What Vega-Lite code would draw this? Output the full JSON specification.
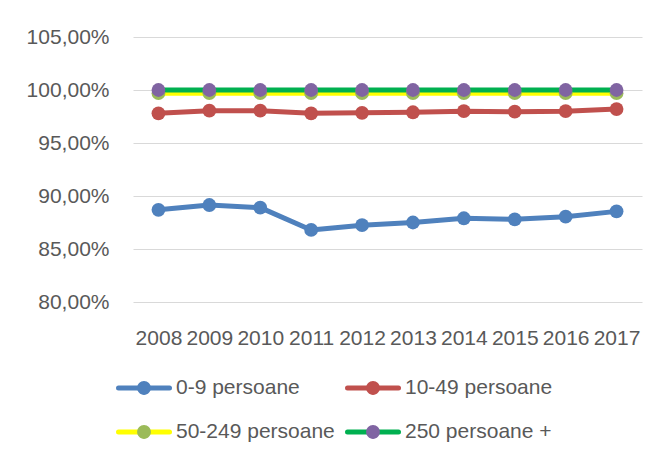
{
  "$schema": "https://vega.github.io/schema/vega-lite/v6.json",
  "width": 509,
  "height": 265,
  "autosize": "none",
  "padding": {"left": 133, "top": 37, "right": 20, "bottom": 159},
  "background": "white",
  "config": {"view": {"stroke": null}, "font": "Liberation Sans"},
  "data": {
    "values": [
      {"year": "2008", "series": "0-9 persoane", "value": 88.7},
      {"year": "2008", "series": "10-49 persoane", "value": 97.8},
      {"year": "2008", "series": "50-249 persoane", "value": 99.7},
      {"year": "2008", "series": "250 persoane +", "value": 100},
      {"year": "2009", "series": "0-9 persoane", "value": 89.15},
      {"year": "2009", "series": "10-49 persoane", "value": 98.05},
      {"year": "2009", "series": "50-249 persoane", "value": 99.7},
      {"year": "2009", "series": "250 persoane +", "value": 100},
      {"year": "2010", "series": "0-9 persoane", "value": 88.9},
      {"year": "2010", "series": "10-49 persoane", "value": 98.05},
      {"year": "2010", "series": "50-249 persoane", "value": 99.7},
      {"year": "2010", "series": "250 persoane +", "value": 100},
      {"year": "2011", "series": "0-9 persoane", "value": 86.8},
      {"year": "2011", "series": "10-49 persoane", "value": 97.8},
      {"year": "2011", "series": "50-249 persoane", "value": 99.7},
      {"year": "2011", "series": "250 persoane +", "value": 100},
      {"year": "2012", "series": "0-9 persoane", "value": 87.25},
      {"year": "2012", "series": "10-49 persoane", "value": 97.85},
      {"year": "2012", "series": "50-249 persoane", "value": 99.7},
      {"year": "2012", "series": "250 persoane +", "value": 100},
      {"year": "2013", "series": "0-9 persoane", "value": 87.5},
      {"year": "2013", "series": "10-49 persoane", "value": 97.9},
      {"year": "2013", "series": "50-249 persoane", "value": 99.7},
      {"year": "2013", "series": "250 persoane +", "value": 100},
      {"year": "2014", "series": "0-9 persoane", "value": 87.9},
      {"year": "2014", "series": "10-49 persoane", "value": 98.0},
      {"year": "2014", "series": "50-249 persoane", "value": 99.7},
      {"year": "2014", "series": "250 persoane +", "value": 100},
      {"year": "2015", "series": "0-9 persoane", "value": 87.8},
      {"year": "2015", "series": "10-49 persoane", "value": 97.95},
      {"year": "2015", "series": "50-249 persoane", "value": 99.7},
      {"year": "2015", "series": "250 persoane +", "value": 100},
      {"year": "2016", "series": "0-9 persoane", "value": 88.05},
      {"year": "2016", "series": "10-49 persoane", "value": 98.0},
      {"year": "2016", "series": "50-249 persoane", "value": 99.7},
      {"year": "2016", "series": "250 persoane +", "value": 100},
      {"year": "2017", "series": "0-9 persoane", "value": 88.55},
      {"year": "2017", "series": "10-49 persoane", "value": 98.2},
      {"year": "2017", "series": "50-249 persoane", "value": 99.7},
      {"year": "2017", "series": "250 persoane +", "value": 100}
    ]
  },
  "encoding": {
    "x": {
      "field": "year",
      "type": "ordinal",
      "scale": {"padding": 0.5},
      "axis": {
        "title": null,
        "labelAngle": 0,
        "ticks": false,
        "domain": false,
        "grid": false,
        "labelPadding": 25,
        "labelFont": "Liberation Sans",
        "labelFontSize": 21,
        "labelColor": "#595959",
        "labelOverlap": false
      }
    },
    "y": {
      "field": "value",
      "type": "quantitative",
      "scale": {"domain": [80, 105], "nice": false, "zero": false},
      "axis": {
        "title": null,
        "ticks": false,
        "domain": false,
        "grid": true,
        "gridColor": "#d9d9d9",
        "gridWidth": 1,
        "values": [80, 85, 90, 95, 100, 105],
        "labelExpr": "replace(format(datum.value, '.2f'), '.', ',') + '%'",
        "labelPadding": 24,
        "labelFont": "Liberation Sans",
        "labelFontSize": 21,
        "labelColor": "#595959"
      }
    }
  },
  "layer": [
    {
      "mark": {"type": "line", "strokeWidth": 5, "strokeJoin": "round", "strokeCap": "round"},
      "encoding": {
        "stroke": {
          "field": "series",
          "type": "nominal",
          "scale": {
            "domain": ["0-9 persoane", "10-49 persoane", "50-249 persoane", "250 persoane +"],
            "range": ["#4F81BD", "#C0504D", "#FFFF00", "#00B050"]
          },
          "legend": {
            "orient": "none",
            "direction": "horizontal",
            "legendX": -17,
            "legendY": 339,
            "columns": 2,
            "title": null,
            "padding": 0,
            "symbolType": "M-1,0L1,0",
            "symbolSize": 2601,
            "symbolStrokeWidth": 5,
            "symbolOffset": 0,
            "clipHeight": 24,
            "rowPadding": 20,
            "columnPadding": 10,
            "labelOffset": 4,
            "labelFont": "Liberation Sans",
            "labelFontSize": 21,
            "labelColor": "#595959",
            "zindex": 0,
            "encode": {"symbols": {"update": {"strokeCap": {"value": "round"}}}}
          }
        }
      }
    },
    {
      "mark": {"type": "point", "filled": true, "size": 190, "opacity": 1},
      "encoding": {
        "fill": {
          "field": "series",
          "type": "nominal",
          "sort": ["0-9 persoane", "10-49 persoane", "50-249 persoane", "250 persoane +"],
          "scale": {"range": ["#4F81BD", "#C0504D", "#9BBB59", "#8064A2"]},
          "legend": {
            "orient": "none",
            "direction": "horizontal",
            "legendX": -17,
            "legendY": 339,
            "columns": 2,
            "title": null,
            "padding": 0,
            "symbolType": "M0.27,0A0.27,0.27,0,1,1,-0.27,0A0.27,0.27,0,1,1,0.27,0Z",
            "symbolSize": 2601,
            "symbolStrokeWidth": 5,
            "symbolOffset": 0,
            "clipHeight": 24,
            "rowPadding": 20,
            "columnPadding": 10,
            "labelOffset": 4,
            "labelFont": "Liberation Sans",
            "labelFontSize": 21,
            "labelColor": "#595959",
            "labelOpacity": 0,
            "zindex": 1,
            "encode": {"symbols": {"update": {"strokeWidth": {"value": 0}}}}
          }
        }
      }
    }
  ]
}
